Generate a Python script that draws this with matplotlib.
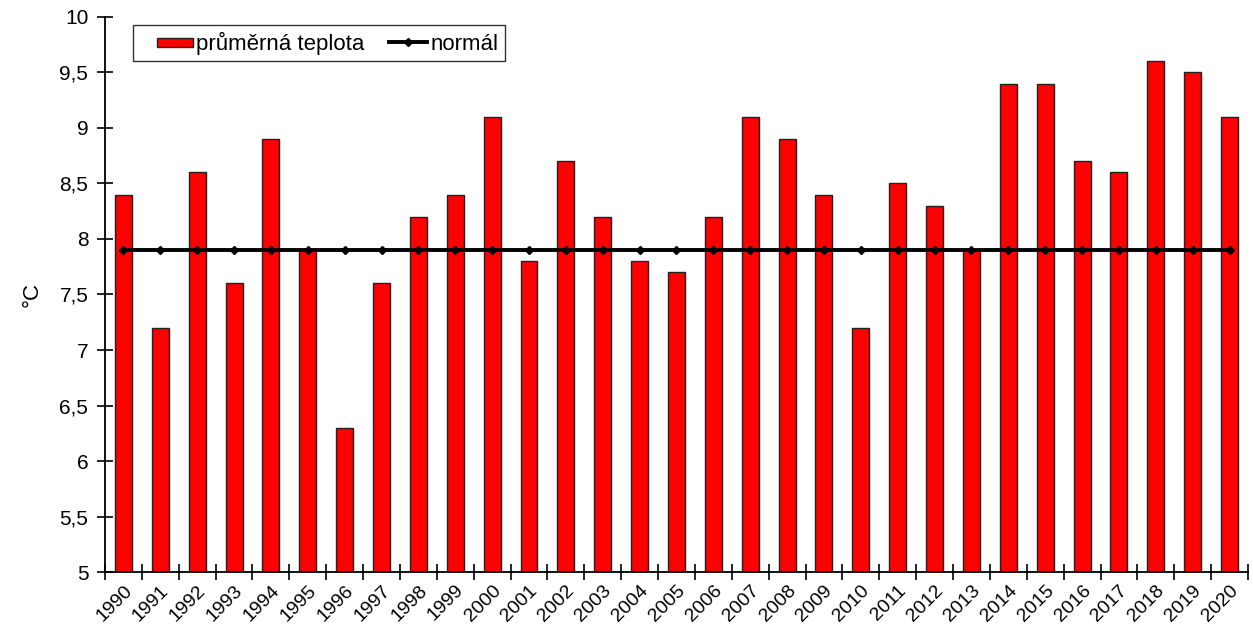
"""Average annual temperature vs. normal, 1990-2020."""

import matplotlib

matplotlib.use("Agg", force=True)

import matplotlib.pyplot as plt
from matplotlib.lines import Line2D
from matplotlib.patches import Rectangle
import numpy as np

years = [str(y) for y in range(1990, 2021)]
prumerna_teplota = [8.4, 7.2, 8.6, 7.6, 8.9, 7.9, 6.3, 7.6, 8.2, 8.4,
                    9.1, 7.8, 8.7, 8.2, 7.8, 7.7, 8.2, 9.1, 8.9, 8.4,
                    7.2, 8.5, 8.3, 7.9, 9.4, 9.4, 8.7, 8.6, 9.6, 9.5, 9.1]
normal = [7.9] * len(years)
y_ticks = [5, 5.5, 6, 6.5, 7, 7.5, 8, 8.5, 9, 9.5, 10]

BAR_RED = "#ff0000"


class _RightAlignedHandle:
	"""Legend handle drawn only in the right part of the handle box."""

	def __init__(self, kind, frac):
		self.kind = kind
		self.frac = frac

	def legend_artist(self, legend, orig_handle, fontsize, handlebox):
		x0, y0 = -handlebox.xdescent, -handlebox.ydescent
		w, h = handlebox.width, handlebox.height
		xs = x0 + w * (1 - self.frac)
		tr = handlebox.get_transform()
		if self.kind == "patch":
			art = Rectangle((xs, y0 + h * 0.18), w * self.frac, h * 0.58,
			                facecolor=BAR_RED, edgecolor="#222222", linewidth=1.0,
			                transform=tr)
			handlebox.add_artist(art)
		else:
			art = Line2D([xs, x0 + w], [y0 + h / 2] * 2, color="black",
			             linewidth=2.8, transform=tr)
			mk = Line2D([(xs + x0 + w) / 2], [y0 + h / 2], color="black",
			            marker="D", markersize=4, linestyle="none", transform=tr)
			handlebox.add_artist(art)
			handlebox.add_artist(mk)
		return art


plt.rcParams["font.family"] = ["Liberation Sans", "DejaVu Sans"]

fig = plt.figure(figsize=(12.53, 6.29), dpi=100)
ax = fig.add_axes([0.0838, 0.0906, 0.9122, 0.8824])

x = np.arange(len(years))
bars = ax.bar(x, [v - 5 for v in prumerna_teplota], bottom=5, width=0.46,
              color=BAR_RED, edgecolor="#222222", linewidth=1.0, zorder=2)
(line,) = ax.plot(x, normal, color="black", linewidth=2.8, marker="D",
                  markersize=4, zorder=3)

ax.set_xlim(-0.5, len(years) - 0.5)
ax.set_ylim(5, 10)
ax.set_yticks(y_ticks)
ax.set_yticklabels([f"{t:g}".replace(".", ",") for t in y_ticks], fontsize=15)
ax.tick_params(axis="y", direction="inout", length=12, width=1.2, pad=6)

ax.set_xticks(np.arange(-0.5, len(years)), labels=[])
ax.set_xticks(x, minor=True)
ax.set_xticklabels(years, minor=True, rotation=45, ha="right",
                   rotation_mode="anchor", fontsize=14)
ax.tick_params(axis="x", which="major", direction="inout", length=12, width=1.2)
ax.tick_params(axis="x", which="minor", length=0, pad=7)

for side in ("top", "right"):
	ax.spines[side].set_visible(False)
for side in ("left", "bottom"):
	ax.spines[side].set_linewidth(1.3)

ax.set_ylabel("°C", fontsize=16, labelpad=12)

leg = ax.legend([bars, line], ["průměrná teplota", "normál"],
                handler_map={bars: _RightAlignedHandle("patch", 0.68),
                             line: _RightAlignedHandle("line", 0.72)},
                loc="upper left", bbox_to_anchor=(0.0245, 0.9856),
                borderaxespad=0, ncol=2, fontsize=16, frameon=True,
                fancybox=False, edgecolor="black", handlelength=2.4,
                handletextpad=0.15, columnspacing=0.4, borderpad=0.3)
leg.get_frame().set_linewidth(1.0)

fig.savefig("out.png", dpi=100)
plt.close(fig)
